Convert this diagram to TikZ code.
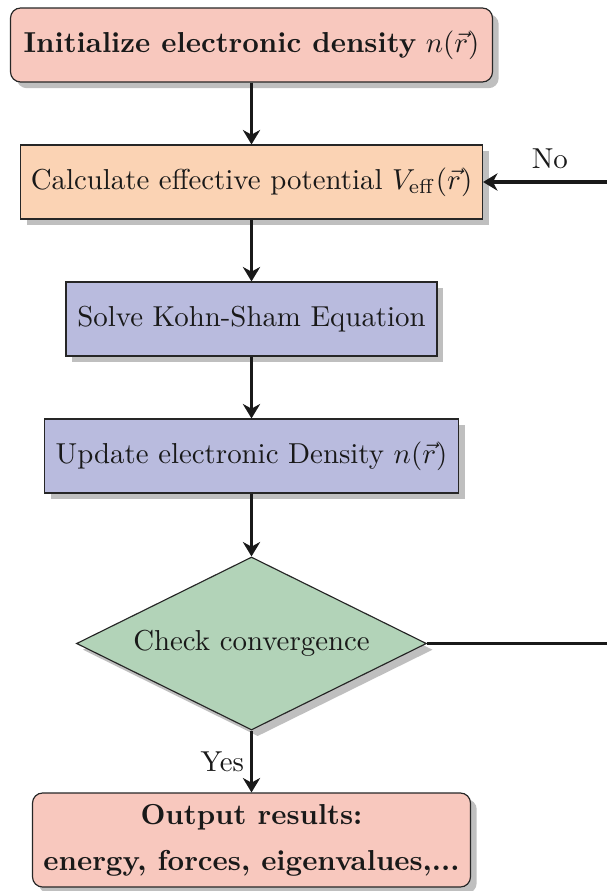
\documentclass[tikz,border=0pt]{standalone}
\usetikzlibrary{shapes.geometric,shadows,arrows.meta}
\definecolor{cpink}{RGB}{248,200,190}
\definecolor{cpeach}{RGB}{251,211,180}
\definecolor{clav}{RGB}{185,187,222}
\definecolor{cgreen}{RGB}{178,211,184}
\tikzset{
  boxbase/.style={draw=black!85, thin, inner sep=0pt, align=center, drop shadow, text=black!90},
  rbox/.style={boxbase, rectangle, rounded corners=3.5pt, fill=cpink},
  pbox/.style={boxbase, rectangle, fill=cpeach},
  lbox/.style={boxbase, rectangle, fill=clav},
  dbox/.style={boxbase, diamond, aspect=2, fill=cgreen},
  flow/.style={line width=1.2pt, draw=black!90, -{Stealth[length=5pt,width=6pt,inset=1.6pt]}},
  flowline/.style={line width=1.2pt, draw=black!90}
}
\begin{document}
\begin{tikzpicture}[x=0.3466pt, y=-0.3466pt]
\useasboundingbox (0,0) rectangle (606,891);
\node[rbox, minimum width={482*0.3466pt}, minimum height={74*0.3466pt}] (init) at (251.5,45)
  {\textbf{Initialize electronic density} $n(\vec{r})$};
\node[pbox, minimum width={462*0.3466pt}, minimum height={74*0.3466pt}] (veff) at (251.5,182)
  {Calculate effective potential $V_{\mathrm{eff}}(\vec{r})$};
\node[lbox, minimum width={371*0.3466pt}, minimum height={74*0.3466pt}] (ks) at (251.5,319)
  {Solve Kohn-Sham Equation};
\node[lbox, minimum width={414*0.3466pt}, minimum height={74*0.3466pt}] (upd) at (251.5,456)
  {Update electronic Density $n(\vec{r})$};
\node[dbox, minimum width={350*0.3466pt}, minimum height={173*0.3466pt}] (conv) at (251.5,643.5)
  {Check convergence};
\node[rbox, minimum width={438*0.3466pt}, minimum height={94*0.3466pt}] (out) at (251.5,840)
  {\textbf{Output results:}\\[4pt]\textbf{energy, forces, eigenvalues,...}};
\draw[flow] (init.south) -- (veff.north);
\draw[flow] (veff.south) -- (ks.north);
\draw[flow] (ks.south) -- (upd.north);
\draw[flow] (upd.south) -- (conv.north);
\draw[flow] (conv.south) -- node[left, text=black!90, inner sep=2pt] {Yes} (out.north);
\coordinate (cornerA) at (650,643.5);
\coordinate (cornerB) at (650,182);
\draw[flowline] (conv.east) -- (cornerA) -- (cornerB);
\draw[flow] (cornerB) -- node[above, pos=0.6, text=black!90, inner sep=4pt] {No} (veff.east);
\end{tikzpicture}
\end{document}
